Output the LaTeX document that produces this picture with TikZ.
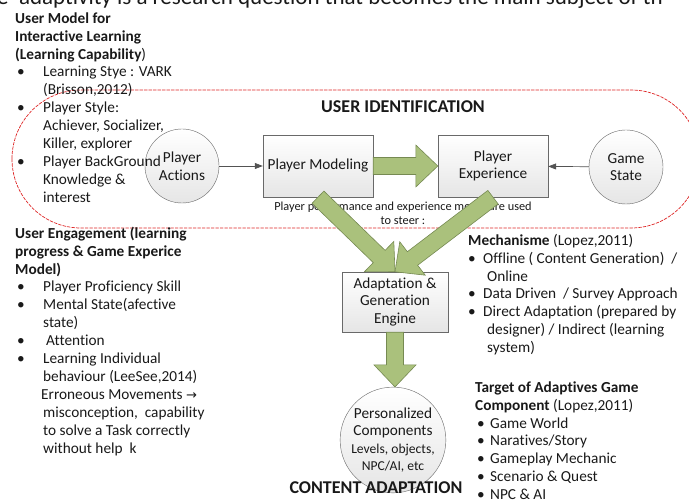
\documentclass[tikz,border=0pt]{standalone}
\usepackage{fontspec}
\setmainfont{Carlito}[Ligatures=NoCommon]
\newfontfamily\arrowfont{DejaVu Sans}
\usepackage{tikz}
\usetikzlibrary{arrows.meta,calc}

\definecolor{fatgreen}{RGB}{170,193,124}
\definecolor{fatedge}{RGB}{118,138,82}
\definecolor{boxedge}{RGB}{105,105,105}
\definecolor{dashred}{RGB}{222,38,38}
\definecolor{ink}{RGB}{25,25,25}

\tikzset{
  box/.style={draw=boxedge, top color=white, bottom color=gray!20, align=center, inner sep=0pt, text=ink, font=\fontsize{15.3}{17.6}\selectfont},
  disc/.style={box, circle},
  fat/.style={draw=fatedge, fill=fatgreen, line join=miter, line width=0.6pt},
  link/.style={draw=gray!65!black, line width=0.7pt, -{Triangle[length=8pt,width=6pt]}},
  notes/.style={anchor=north west, align=left, inner sep=0pt, text=ink, font=\fontsize{15.3}{17.9}\selectfont},
  title/.style={anchor=base, inner sep=0pt, text=ink, font=\fontsize{18}{20}\selectfont\bfseries},
  zone/.style={draw=dashred, dash pattern=on 3pt off 1.5pt, line width=0.7pt},
}

% bullets: shift, then width of the bullet box
\newcommand{\bul}[2]{\hspace*{#1}\makebox[#2][l]{\textbullet}}
\newcommand{\lb}{\bul{2pt}{26pt}}
\newcommand{\lc}{\hspace*{28pt}}
\newcommand{\rb}{\bul{0pt}{15pt}}
\newcommand{\rc}{\hspace*{19pt}}
\newcommand{\tb}{\bul{2pt}{13pt}}

% block arrow from #1 to #2
\newcommand{\fatarrow}[2]{%
  \path (#2) coordinate (fa-tip) ($(#2)!22pt!(#1)$) coordinate (fa-base);
  \draw[fat] ($(#1)!8.5pt!90:(#2)$) -- ($(fa-base)!8.5pt!-90:(#1)$)
    -- ($(fa-base)!21pt!-90:(#1)$) -- (fa-tip) -- ($(fa-base)!21pt!90:(#1)$)
    -- ($(fa-base)!8.5pt!90:(#1)$) -- ($(#1)!8.5pt!-90:(#2)$) -- cycle;}

\begin{document}
\begin{tikzpicture}[x=1pt,y=-1pt,line cap=round]
\useasboundingbox (0,0) rectangle (689,500);

% heading of the page, cut at the top
\node[anchor=base west, inner sep=0pt, text=ink, font=\fontsize{23}{25}\selectfont] (pagehead) at (-3,5)
  {e\ \ adaptivity is a research question that becomes the main subject of th};

% user identification zone
\draw[zone, rounded corners=69pt] (12,90) rectangle (700,228);

% nodes
\node[disc, minimum size=74pt] (pa) at (182,166) {Player\\Actions};
\node[box, minimum width=110pt, minimum height=62pt] (pm) at (318,166) {Player Modeling};
\node[box, minimum width=110pt, minimum height=62pt] (pe) at (493,166) {Player\\Experience};
\node[disc, minimum size=74pt] (gs) at (626,167) {Game\\State};
\node[box, minimum width=106pt, minimum height=60pt] (ag) at (395,302) {Adaptation \&\\Generation\\Engine};
\node[disc, minimum size=104pt] (pc) at (393,440)
  {Personalized\\Components\\{\fontsize{13.6}{17.4}\selectfont Levels, objects,}\\{\fontsize{13.6}{17.4}\selectfont NPC/AI, etc}};

\draw[link] (pa) -- (pm);
\draw[link] (gs) -- (pe);

% side notes
\node[notes] (usermodel) at (15,10) {\rule{0pt}{13pt}\textbf{User Model for}\\
  \textbf{Interactive Learning}\\
  \textbf{(Learning Capability})\\
  \lb Learning Stye : VARK\\
  \lc (Brisson,2012)\\
  \lb Player Style:\\
  \lc Achiever, Socializer,\\
  \lc Killer, explorer\\
  \lb Player BackGround\\
  \lc Knowledge \&\\
  \lc interest};

\node[notes] (engagement) at (15,225) {\rule{0pt}{13pt}\textbf{User Engagement (learning}\\
  \textbf{progress \& Game Experice}\\
  \textbf{Model)}\\
  \lb Player Proficiency Skill\\
  \lb Mental State(afective\\
  \lc state)\\
  \lb\hspace*{3pt}Attention\\
  \lb Learning Individual\\
  \lc behaviour (LeeSee,2014)\\
  \hspace*{26pt}Erroneous Movements {\arrowfont\fontsize{13}{14}\selectfont →}\\
  \lc misconception,\ \ capability\\
  \lc to solve a Task correctly\\
  \lc without help\ \ k};

\node[notes] (mechanism) at (468,232) {\rule{0pt}{13pt}\textbf{Mechanisme} (Lopez,2011)\\
  \rb Offline ( Content Generation)\ \ /\\
  \rc Online\\
  \rb Data Driven\ \ / Survey Approach\\
  \rb Direct Adaptation (prepared by\\
  \rc designer) / Indirect (learning\\
  \rc system)};

\node[notes] (target) at (475,379) {\rule{0pt}{13pt}\textbf{Target of Adaptives Game}\\
  \textbf{Component} (Lopez,2011)\\
  \tb Game World\\
  \tb Naratives/Story\\
  \tb Gameplay Mechanic\\
  \tb Scenario \& Quest\\
  \tb NPC \& AI};

\node[anchor=north, align=center, inner sep=0pt, text=ink, font=\fontsize{12.3}{14}\selectfont] (steer) at (403,200)
  {\rule{0pt}{10pt}Player performance and experience model are used\\to steer :};

% block arrows
\fatarrow{pm.east}{pe.west}
\fatarrow{pm.south}{ag.north}
\fatarrow{pe.south}{ag.north}
\fatarrow{ag.south}{ag.south |- pc.north}

% titles
\node[title] (useridt) at (403,113) {USER IDENTIFICATION};
\node[title] (contadt) at (376,493) {CONTENT ADAPTATION};
\end{tikzpicture}
\end{document}
